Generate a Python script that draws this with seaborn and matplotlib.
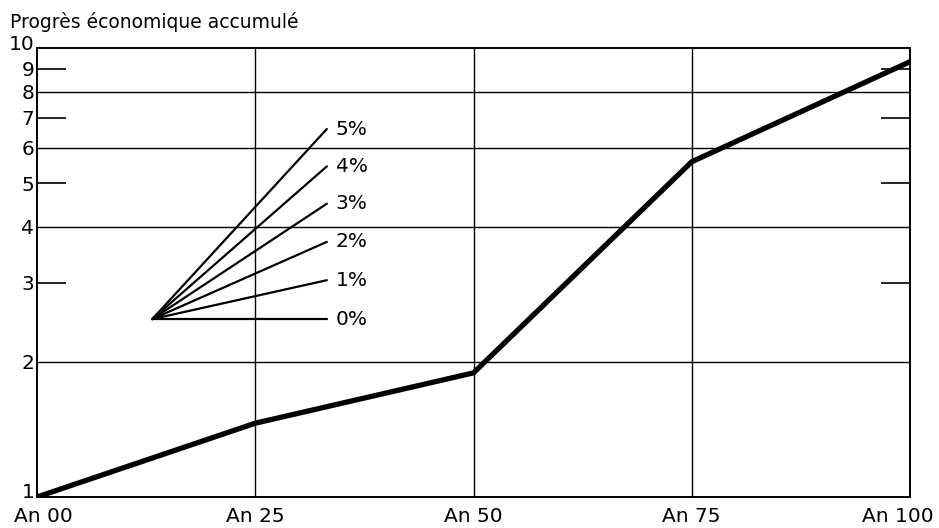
import matplotlib
matplotlib.use("Agg")
import matplotlib.pyplot as plt
import matplotlib.transforms as mtransforms
import seaborn as sns
import pandas as pd
from matplotlib.ticker import FixedLocator, NullFormatter

# Data
years = [0, 25, 50, 75, 100]
progress = [1.0, 1.46, 1.89, 5.58, 9.32]
x_labels = ["An 00", "An 25", "An 50", "An 75", "An 100"]
y_ticks = [1, 2, 3, 4, 5, 6, 7, 8, 9, 10]

fan_rates = ["0%", "1%", "2%", "3%", "4%", "5%"]
fan_start_x = 13.2
fan_end_x = 33.2
fan_start_y = 2.49
fan_end_y = [2.49, 3.04, 3.70, 4.50, 5.45, 6.60]

sns.set_theme(style="white")
plt.rcParams['font.family'] = ['DejaVu Sans']
plt.rcParams['text.color'] = 'black'
plt.rcParams['xtick.color'] = 'black'
plt.rcParams['ytick.color'] = 'black'
plt.rcParams['xtick.labelcolor'] = 'black'
plt.rcParams['ytick.labelcolor'] = 'black'

fig = plt.figure(figsize=(9.39, 5.28), dpi=100)
ax = fig.add_axes([37/939, 1-497/528, (910-37)/939, (497-48)/528])

ax.set_yscale("log")
ax.set_xlim(0, 100)
ax.set_ylim(1, 10)

# grid
for xv in [25, 50, 75]:
    ax.axvline(xv, color="black", lw=1.0, zorder=1)
for yv in [2, 4, 6, 8]:
    ax.axhline(yv, color="black", lw=1.0, zorder=1)

# fan
fan_rows = []
for r, ey in zip(fan_rates, fan_end_y):
    fan_rows.append({"x": fan_start_x, "y": fan_start_y, "rate": r})
    fan_rows.append({"x": fan_end_x, "y": ey, "rate": r})
fan_df = pd.DataFrame(fan_rows)
sns.lineplot(data=fan_df, x="x", y="y", units="rate", estimator=None,
             color="black", lw=1.6, ax=ax, zorder=3)
for r, ey in zip(fan_rates, fan_end_y):
    ax.text(fan_end_x + 1.0, ey, r, fontsize=14.5, va="center", ha="left",
            color="black")

# main line
main_df = pd.DataFrame({"year": years, "progress": progress})
sns.lineplot(data=main_df, x="year", y="progress", color="black", lw=3.8,
             ax=ax, zorder=4, solid_joinstyle="miter")

ax.set_xlabel("")
ax.set_ylabel("")
ax.set_xticks(years)
ax.set_xticklabels(x_labels, fontsize=14.5)
ax.yaxis.set_major_locator(FixedLocator(y_ticks))
ax.set_yticklabels([str(v) for v in y_ticks], fontsize=14.5)
ax.yaxis.remove_overlapping_locs = False
ax.yaxis.set_minor_locator(FixedLocator([3, 5, 7, 9]))
ax.yaxis.set_minor_formatter(NullFormatter())
ax.tick_params(axis="both", which="major", length=0, pad=2, colors="black")
ax.tick_params(axis="y", which="minor", length=21, width=1.2, direction="in",
               left=True, right=True, color="black")
ax.tick_params(axis="x", pad=7)

# nudge labels like the reference
xl = ax.get_xticklabels()
xl[0].set_transform(xl[0].get_transform() + mtransforms.ScaledTranslation(6/100, 0, fig.dpi_scale_trans))
xl[-1].set_transform(xl[-1].get_transform() + mtransforms.ScaledTranslation(-12/100, 0, fig.dpi_scale_trans))
yl = ax.get_yticklabels()
yl[0].set_transform(yl[0].get_transform() + mtransforms.ScaledTranslation(0, 7/100, fig.dpi_scale_trans))
yl[-1].set_transform(yl[-1].get_transform() + mtransforms.ScaledTranslation(0, 5/100, fig.dpi_scale_trans))

for s in ax.spines.values():
    s.set_color("black")
    s.set_linewidth(1.4)
    s.set_visible(True)

fig.text(10/939, 1-22/528, "Progrès économique accumulé", fontsize=13.5,
         va="center", ha="left", color="black")

fig.savefig("out.png", dpi=100, facecolor="white")
